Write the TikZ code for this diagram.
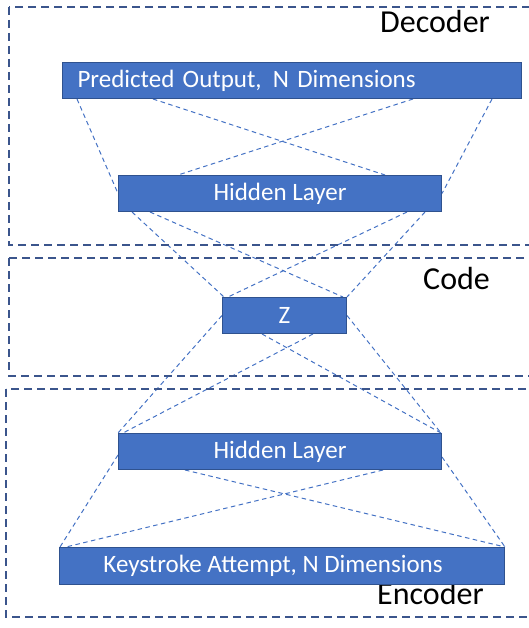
\documentclass[tikz,border=0pt]{standalone}
\usepackage{fontspec}
\setmainfont{Carlito}
\usetikzlibrary{backgrounds,calc}
\definecolor{boxblue}{RGB}{68,114,196}
\definecolor{boxedge}{RGB}{47,82,143}
\definecolor{framecol}{RGB}{59,85,140}
\begin{document}
\begin{tikzpicture}[x=1pt,y=-1pt,
  layerbox/.style={draw=boxedge, line width=1pt, fill=boxblue, text=white, inner sep=0pt, anchor=north west, font=\fontsize{25}{29}\selectfont},
  link/.style={draw=boxblue, line width=1pt, dash pattern=on 4.5pt off 3.5pt},
  frameline/.style={draw=framecol, line width=1.5pt, dash pattern=on 8pt off 5pt},
  lbl/.style={anchor=base west, font=\fontsize{32}{36}\selectfont, inner sep=0pt}]
\useasboundingbox (0,0) rectangle (529,628);
\clip (0,0) rectangle (529,628);
% frames
\draw[frameline] (9,7) rectangle (545,245);
\draw[frameline] (9,258) rectangle (545,376);
\draw[frameline] (6,389) rectangle (545,617);
\node[lbl] (declbl) at (380,33) {Decoder};
\node[lbl] (codelbl) at (423,289) {Code};
\node[lbl] (enclbl) at (377,604) {Encoder};
% boxes
\node[layerbox, minimum width=444pt, minimum height=36pt, text width=429pt, inner xsep=15pt, align=left] (pred) at (62,62) {Predicted Output,\hspace{0.45em}N Dimensions};
\node[layerbox, minimum width=323pt, minimum height=36pt] (hid1) at (118,175) {Hidden Layer};
\node[layerbox, minimum width=124pt, minimum height=36pt] (z) at (222,297) {Z};
\node[layerbox, minimum width=323pt, minimum height=36pt] (hid2) at (118,433) {Hidden Layer};
\node[layerbox, minimum width=445pt, minimum height=37pt] (key) at (59,547) {Keystroke Attempt, N Dimensions\kern 18pt\relax};
\begin{scope}[on background layer]
% predicted -> hidden 1
\draw[link] ($(pred.south west)+(15,0)$) -- (hid1.west);
\draw[link] ($(pred.south west)+(91,0)$) -- ($(hid1.north west)+(267,0)$);
\draw[link] ($(pred.south west)+(351,0)$) -- ($(hid1.north west)+(60,0)$);
\draw[link] ($(pred.south west)+(430,0)$) -- (hid1.east);
% hidden 1 -> z
\draw[link] ($(hid1.south west)+(14,0)$) -- ($(z.north west)+(2,0)$);
\draw[link] ($(hid1.south west)+(32,0)$) -- ($(z.north east)+(-4,0)$);
\draw[link] ($(hid1.south west)+(289,0)$) -- ($(z.north west)+(6,0)$);
\draw[link] ($(hid1.south west)+(307,0)$) -- (z.north east);
% z -> hidden 2
\draw[link] (z.west) -- (hid2.north west);
\draw[link] ($(z.south west)+(40,0)$) -- ($(hid2.north east)+(-1,0)$);
\draw[link] ($(z.south west)+(91,0)$) -- ($(hid2.north west)+(5,0)$);
\draw[link] (z.east) -- ($(hid2.north east)+(-1,0)$);
% hidden 2 -> keystroke
\draw[link] ($(hid2.north west)+(0,22)$) -- ($(key.north west)+(1,0)$);
\draw[link] ($(hid2.south west)+(67,0)$) -- (key.north east);
\draw[link] ($(hid2.south west)+(265,0)$) -- ($(key.north west)+(7,0)$);
\draw[link] ($(hid2.north east)+(0,24)$) -- (key.north east);
\end{scope}
\end{tikzpicture}
\end{document}
